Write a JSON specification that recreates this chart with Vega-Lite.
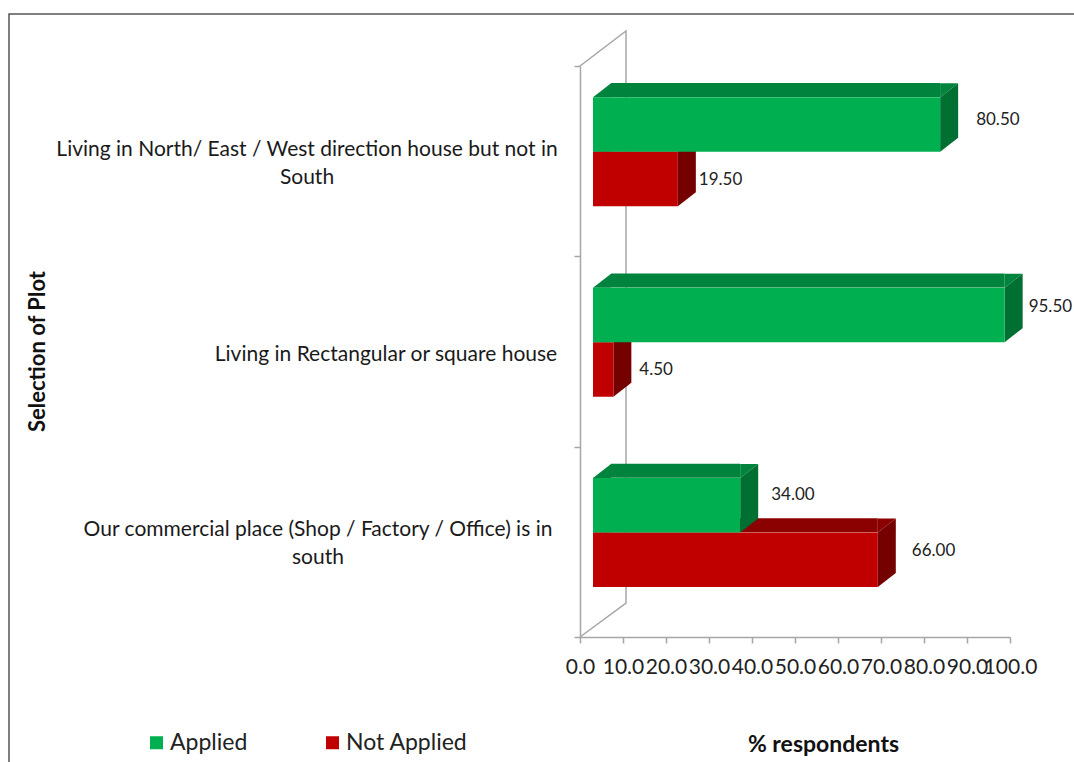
{
"$schema":"https://vega.github.io/schema/vega-lite/v6.json",
"width":430,"height":571,"autosize":"none",
"padding":{"left":580,"top":66,"right":64,"bottom":125},
"background":"white",
"config":{"view":{"stroke":null},"font":"Lato"},
"data":{"values":[
{"plot":"Living in North/ East / West  direction house but not in\nSouth","series":"Applied","value":80.5},
{"plot":"Living in North/ East / West  direction house but not in\nSouth","series":"Not Applied","value":19.5},
{"plot":"Living in Rectangular or square house","series":"Applied","value":95.5},
{"plot":"Living in Rectangular or square house","series":"Not Applied","value":4.5},
{"plot":"Our commercial place (Shop / Factory / Office) is in\nsouth","series":"Applied","value":34},
{"plot":"Our commercial place (Shop / Factory / Office) is in\nsouth","series":"Not Applied","value":66}
]},
"resolve":{"scale":{"y":"independent","yOffset":"independent"}},
"layer":[
{"transform":[{"filter":"datum.value==95.5"}],
 "mark":{"type":"point","filled":false,"opacity":1,"size":4,"stroke":"#A6A6A6","strokeWidth":1.5,"shape":"M0,-285.5L46,-320.5L46,251.5L0,285.5"},
 "encoding":{
  "x":{"datum":0,"type":"quantitative","scale":{"domain":[0,100]},"axis":{"values":[0,10,20,30,40,50,60,70,80,90,100],"format":".1f","grid":false,"labelFontSize":21,"labelColor":"#222222","labelOverlap":false,"labelFlush":false,"labelPadding":13,"domainColor":"#A6A6A6","domainWidth":1.5,"tickColor":"#A6A6A6","tickWidth":1.5,"tickSize":6,"title":"% respondents","titleFontSize":23,"titleFontWeight":"bold","titleColor":"#111111","titleX":243,"titleY":114,"titleBaseline":"alphabetic"}},
  "y":{"field":"plot","type":"nominal","sort":null,"scale":{"type":"band","domain":["Living in North/ East / West  direction house but not in\nSouth","Living in Rectangular or square house","Our commercial place (Shop / Factory / Office) is in\nsouth"],"range":[0,571],"paddingInner":0,"paddingOuter":0},"axis":{"labels":false,"tickBand":"extent","domainColor":"#A6A6A6","domainWidth":1.5,"tickColor":"#A6A6A6","tickWidth":1.5,"tickSize":6,"title":"Selection of Plot","titleFontSize":22,"titleFontWeight":"bold","titleColor":"#111111","titleX":-531,"titleY":285}}
 }},
{"transform":[{"filter":"datum.value==95.5"}],
 "mark":{"type":"point","filled":false,"opacity":1,"size":4,"stroke":"#555555","strokeWidth":1.5,"shape":"M-571,410.5L-571,-337.5L494,-337.5"},
 "encoding":{"x":{"datum":0,"type":"quantitative"},"y":{"field":"plot","type":"nominal","sort":null,"scale":{"type":"band","domain":["Living in North/ East / West  direction house but not in\nSouth","Living in Rectangular or square house","Our commercial place (Shop / Factory / Office) is in\nsouth"],"range":[0,571],"paddingInner":0,"paddingOuter":0},"axis":null}}},
{"transform":[{"filter":"datum.value==19.5"}],
 "mark":{"type":"text","align":"center","baseline":"middle","lineBreak":"\n","lineHeight":28,"fontSize":21,"color":"#1a1a1a","dx":-273,"dy":-11},
 "encoding":{"x":{"datum":0,"type":"quantitative"},"y":{"field":"plot","type":"nominal","sort":null,"scale":{"type":"band","domain":["Living in North/ East / West  direction house but not in\nSouth","Living in Rectangular or square house","Our commercial place (Shop / Factory / Office) is in\nsouth"],"range":[0,571],"paddingInner":0,"paddingOuter":0},"axis":null},"text":{"field":"plot"}}},
{"transform":[{"filter":"datum.value==4.5"}],
 "mark":{"type":"text","align":"center","baseline":"middle","lineBreak":"\n","lineHeight":28,"fontSize":21,"color":"#1a1a1a","dx":-194,"dy":3},
 "encoding":{"x":{"datum":0,"type":"quantitative"},"y":{"field":"plot","type":"nominal","sort":null,"scale":{"type":"band","domain":["Living in North/ East / West  direction house but not in\nSouth","Living in Rectangular or square house","Our commercial place (Shop / Factory / Office) is in\nsouth"],"range":[0,571],"paddingInner":0,"paddingOuter":0},"axis":null},"text":{"field":"plot"}}},
{"transform":[{"filter":"datum.value==34"}],
 "mark":{"type":"text","align":"center","baseline":"middle","lineBreak":"\n","lineHeight":28,"fontSize":21,"color":"#1a1a1a","dx":-262,"dy":-12},
 "encoding":{"x":{"datum":0,"type":"quantitative"},"y":{"field":"plot","type":"nominal","sort":null,"scale":{"type":"band","domain":["Living in North/ East / West  direction house but not in\nSouth","Living in Rectangular or square house","Our commercial place (Shop / Factory / Office) is in\nsouth"],"range":[0,571],"paddingInner":0,"paddingOuter":0},"axis":null},"text":{"field":"plot"}}},

{"transform":[{"filter":"datum.series=='Not Applied'"}],
 "mark":{"type":"bar","height":14,"xOffset":14,"x2Offset":31,"color":"#8B0000"},
 "encoding":{"x":{"field":"value","type":"quantitative"},"x2":{"datum":0},"y":{"field":"plot","type":"nominal","sort":null,"scale":{"type":"band","domain":["Living in North/ East / West  direction house but not in\nSouth","Living in Rectangular or square house","Our commercial place (Shop / Factory / Office) is in\nsouth"],"range":[-43.8,527.2],"paddingInner":0,"paddingOuter":0},"axis":null},"yOffset":{"field":"series","scale":{"type":"band","domain":["Applied","Not Applied"],"paddingInner":0,"paddingOuter":0.746}}}},
{"transform":[{"filter":"datum.series=='Not Applied'"}],
 "mark":{"type":"point","filled":true,"opacity":1,"size":4,"color":"#8B0000","shape":"M14,-27.25L32,-41.25L14,-41.25Z"},
 "encoding":{"x":{"field":"value","type":"quantitative"},"y":{"field":"plot","type":"nominal","sort":null,"scale":{"type":"band","domain":["Living in North/ East / West  direction house but not in\nSouth","Living in Rectangular or square house","Our commercial place (Shop / Factory / Office) is in\nsouth"],"range":[-9.3,561.7],"paddingInner":0,"paddingOuter":0},"axis":null},"yOffset":{"field":"series","scale":{"type":"band","domain":["Applied","Not Applied"],"paddingInner":0,"paddingOuter":0.746}}}},
{"transform":[{"filter":"datum.series=='Not Applied'"}],
 "mark":{"type":"point","filled":true,"opacity":1,"size":4,"color":"#8B0000","shape":"M13,-27.25L31,-41.25L31,-27.25Z"},
 "encoding":{"x":{"datum":0,"type":"quantitative"},"y":{"field":"plot","type":"nominal","sort":null,"scale":{"type":"band","domain":["Living in North/ East / West  direction house but not in\nSouth","Living in Rectangular or square house","Our commercial place (Shop / Factory / Office) is in\nsouth"],"range":[-9.3,561.7],"paddingInner":0,"paddingOuter":0},"axis":null},"yOffset":{"field":"series","scale":{"type":"band","domain":["Applied","Not Applied"],"paddingInner":0,"paddingOuter":0.746}}}},
{"transform":[{"filter":"datum.series=='Not Applied'"}],
 "mark":{"type":"point","filled":true,"opacity":1,"size":4,"color":"#750000","shape":"M14,-27.25L32,-41.25L32,13.25L14,27.25Z"},
 "encoding":{"x":{"field":"value","type":"quantitative"},"y":{"field":"plot","type":"nominal","sort":null,"scale":{"type":"band","domain":["Living in North/ East / West  direction house but not in\nSouth","Living in Rectangular or square house","Our commercial place (Shop / Factory / Office) is in\nsouth"],"range":[-9.3,561.7],"paddingInner":0,"paddingOuter":0},"axis":null},"yOffset":{"field":"series","scale":{"type":"band","domain":["Applied","Not Applied"],"paddingInner":0,"paddingOuter":0.746}}}},
{"transform":[{"filter":"datum.series=='Not Applied'"}],
 "mark":{"type":"bar","xOffset":14,"x2Offset":13},
 "encoding":{"x":{"field":"value","type":"quantitative"},"x2":{"datum":0},"y":{"field":"plot","type":"nominal","sort":null,"scale":{"type":"band","domain":["Living in North/ East / West  direction house but not in\nSouth","Living in Rectangular or square house","Our commercial place (Shop / Factory / Office) is in\nsouth"],"range":[-9.3,561.7],"paddingInner":0,"paddingOuter":0},"axis":null},"yOffset":{"field":"series","scale":{"type":"band","domain":["Applied","Not Applied"],"paddingInner":0,"paddingOuter":0.746}},
  "color":{"field":"series","type":"nominal","scale":{"domain":["Applied","Not Applied"],"range":["#00B050","#C00000"]},"legend":{"orient":"none","legendX":-435,"legendY":665,"direction":"horizontal","title":null,"symbolType":"square","symbolSize":169,"symbolStrokeWidth":0,"labelFontSize":23,"labelColor":"#222222","labelOffset":2,"columnPadding":73,"columns":2}}}},

{"transform":[{"filter":"datum.series=='Applied'"}],
 "mark":{"type":"bar","height":14,"xOffset":14,"x2Offset":31,"color":"#00843D"},
 "encoding":{"x":{"field":"value","type":"quantitative"},"x2":{"datum":0},"y":{"field":"plot","type":"nominal","sort":null,"scale":{"type":"band","domain":["Living in North/ East / West  direction house but not in\nSouth","Living in Rectangular or square house","Our commercial place (Shop / Factory / Office) is in\nsouth"],"range":[-43.8,527.2],"paddingInner":0,"paddingOuter":0},"axis":null},"yOffset":{"field":"series","scale":{"type":"band","domain":["Applied","Not Applied"],"paddingInner":0,"paddingOuter":0.746}}}},
{"transform":[{"filter":"datum.series=='Applied'"}],
 "mark":{"type":"point","filled":true,"opacity":1,"size":4,"color":"#00843D","shape":"M14,-27.25L32,-41.25L14,-41.25Z"},
 "encoding":{"x":{"field":"value","type":"quantitative"},"y":{"field":"plot","type":"nominal","sort":null,"scale":{"type":"band","domain":["Living in North/ East / West  direction house but not in\nSouth","Living in Rectangular or square house","Our commercial place (Shop / Factory / Office) is in\nsouth"],"range":[-9.3,561.7],"paddingInner":0,"paddingOuter":0},"axis":null},"yOffset":{"field":"series","scale":{"type":"band","domain":["Applied","Not Applied"],"paddingInner":0,"paddingOuter":0.746}}}},
{"transform":[{"filter":"datum.series=='Applied'"}],
 "mark":{"type":"point","filled":true,"opacity":1,"size":4,"color":"#00843D","shape":"M13,-27.25L31,-41.25L31,-27.25Z"},
 "encoding":{"x":{"datum":0,"type":"quantitative"},"y":{"field":"plot","type":"nominal","sort":null,"scale":{"type":"band","domain":["Living in North/ East / West  direction house but not in\nSouth","Living in Rectangular or square house","Our commercial place (Shop / Factory / Office) is in\nsouth"],"range":[-9.3,561.7],"paddingInner":0,"paddingOuter":0},"axis":null},"yOffset":{"field":"series","scale":{"type":"band","domain":["Applied","Not Applied"],"paddingInner":0,"paddingOuter":0.746}}}},
{"transform":[{"filter":"datum.series=='Applied'"}],
 "mark":{"type":"point","filled":true,"opacity":1,"size":4,"color":"#006F32","shape":"M14,-27.25L32,-41.25L32,13.25L14,27.25Z"},
 "encoding":{"x":{"field":"value","type":"quantitative"},"y":{"field":"plot","type":"nominal","sort":null,"scale":{"type":"band","domain":["Living in North/ East / West  direction house but not in\nSouth","Living in Rectangular or square house","Our commercial place (Shop / Factory / Office) is in\nsouth"],"range":[-9.3,561.7],"paddingInner":0,"paddingOuter":0},"axis":null},"yOffset":{"field":"series","scale":{"type":"band","domain":["Applied","Not Applied"],"paddingInner":0,"paddingOuter":0.746}}}},
{"transform":[{"filter":"datum.series=='Applied'"}],
 "mark":{"type":"bar","xOffset":14,"x2Offset":13},
 "encoding":{"x":{"field":"value","type":"quantitative"},"x2":{"datum":0},"y":{"field":"plot","type":"nominal","sort":null,"scale":{"type":"band","domain":["Living in North/ East / West  direction house but not in\nSouth","Living in Rectangular or square house","Our commercial place (Shop / Factory / Office) is in\nsouth"],"range":[-9.3,561.7],"paddingInner":0,"paddingOuter":0},"axis":null},"yOffset":{"field":"series","scale":{"type":"band","domain":["Applied","Not Applied"],"paddingInner":0,"paddingOuter":0.746}},
  "color":{"field":"series","type":"nominal","scale":{"domain":["Applied","Not Applied"],"range":["#00B050","#C00000"]}}}},

{"transform":[{"filter":"datum.value==80.5"}],"mark":{"type":"text","align":"left","baseline":"middle","fontSize":17,"color":"#222222","dx":50,"dy":-5},
 "encoding":{"x":{"field":"value","type":"quantitative"},"text":{"field":"value","format":".2f"},"y":{"field":"plot","type":"nominal","sort":null,"scale":{"type":"band","domain":["Living in North/ East / West  direction house but not in\nSouth","Living in Rectangular or square house","Our commercial place (Shop / Factory / Office) is in\nsouth"],"range":[-9.3,561.7],"paddingInner":0,"paddingOuter":0},"axis":null},"yOffset":{"field":"series","scale":{"type":"band","domain":["Applied","Not Applied"],"paddingInner":0,"paddingOuter":0.746}}}},
{"transform":[{"filter":"datum.value==19.5"}],"mark":{"type":"text","align":"left","baseline":"middle","fontSize":17,"color":"#222222","dx":35,"dy":1},
 "encoding":{"x":{"field":"value","type":"quantitative"},"text":{"field":"value","format":".2f"},"y":{"field":"plot","type":"nominal","sort":null,"scale":{"type":"band","domain":["Living in North/ East / West  direction house but not in\nSouth","Living in Rectangular or square house","Our commercial place (Shop / Factory / Office) is in\nsouth"],"range":[-9.3,561.7],"paddingInner":0,"paddingOuter":0},"axis":null},"yOffset":{"field":"series","scale":{"type":"band","domain":["Applied","Not Applied"],"paddingInner":0,"paddingOuter":0.746}}}},
{"transform":[{"filter":"datum.value==95.5"}],"mark":{"type":"text","align":"left","baseline":"middle","fontSize":17,"color":"#222222","dx":38,"dy":-8},
 "encoding":{"x":{"field":"value","type":"quantitative"},"text":{"field":"value","format":".2f"},"y":{"field":"plot","type":"nominal","sort":null,"scale":{"type":"band","domain":["Living in North/ East / West  direction house but not in\nSouth","Living in Rectangular or square house","Our commercial place (Shop / Factory / Office) is in\nsouth"],"range":[-9.3,561.7],"paddingInner":0,"paddingOuter":0},"axis":null},"yOffset":{"field":"series","scale":{"type":"band","domain":["Applied","Not Applied"],"paddingInner":0,"paddingOuter":0.746}}}},
{"transform":[{"filter":"datum.value==4.5"}],"mark":{"type":"text","align":"left","baseline":"middle","fontSize":17,"color":"#222222","dx":40,"dy":1},
 "encoding":{"x":{"field":"value","type":"quantitative"},"text":{"field":"value","format":".2f"},"y":{"field":"plot","type":"nominal","sort":null,"scale":{"type":"band","domain":["Living in North/ East / West  direction house but not in\nSouth","Living in Rectangular or square house","Our commercial place (Shop / Factory / Office) is in\nsouth"],"range":[-9.3,561.7],"paddingInner":0,"paddingOuter":0},"axis":null},"yOffset":{"field":"series","scale":{"type":"band","domain":["Applied","Not Applied"],"paddingInner":0,"paddingOuter":0.746}}}},
{"transform":[{"filter":"datum.value==34"}],"mark":{"type":"text","align":"left","baseline":"middle","fontSize":17,"color":"#222222","dx":45,"dy":-10},
 "encoding":{"x":{"field":"value","type":"quantitative"},"text":{"field":"value","format":".2f"},"y":{"field":"plot","type":"nominal","sort":null,"scale":{"type":"band","domain":["Living in North/ East / West  direction house but not in\nSouth","Living in Rectangular or square house","Our commercial place (Shop / Factory / Office) is in\nsouth"],"range":[-9.3,561.7],"paddingInner":0,"paddingOuter":0},"axis":null},"yOffset":{"field":"series","scale":{"type":"band","domain":["Applied","Not Applied"],"paddingInner":0,"paddingOuter":0.746}}}},
{"transform":[{"filter":"datum.value==66"}],"mark":{"type":"text","align":"left","baseline":"middle","fontSize":17,"color":"#222222","dx":48,"dy":-9},
 "encoding":{"x":{"field":"value","type":"quantitative"},"text":{"field":"value","format":".2f"},"y":{"field":"plot","type":"nominal","sort":null,"scale":{"type":"band","domain":["Living in North/ East / West  direction house but not in\nSouth","Living in Rectangular or square house","Our commercial place (Shop / Factory / Office) is in\nsouth"],"range":[-9.3,561.7],"paddingInner":0,"paddingOuter":0},"axis":null},"yOffset":{"field":"series","scale":{"type":"band","domain":["Applied","Not Applied"],"paddingInner":0,"paddingOuter":0.746}}}}
]}
